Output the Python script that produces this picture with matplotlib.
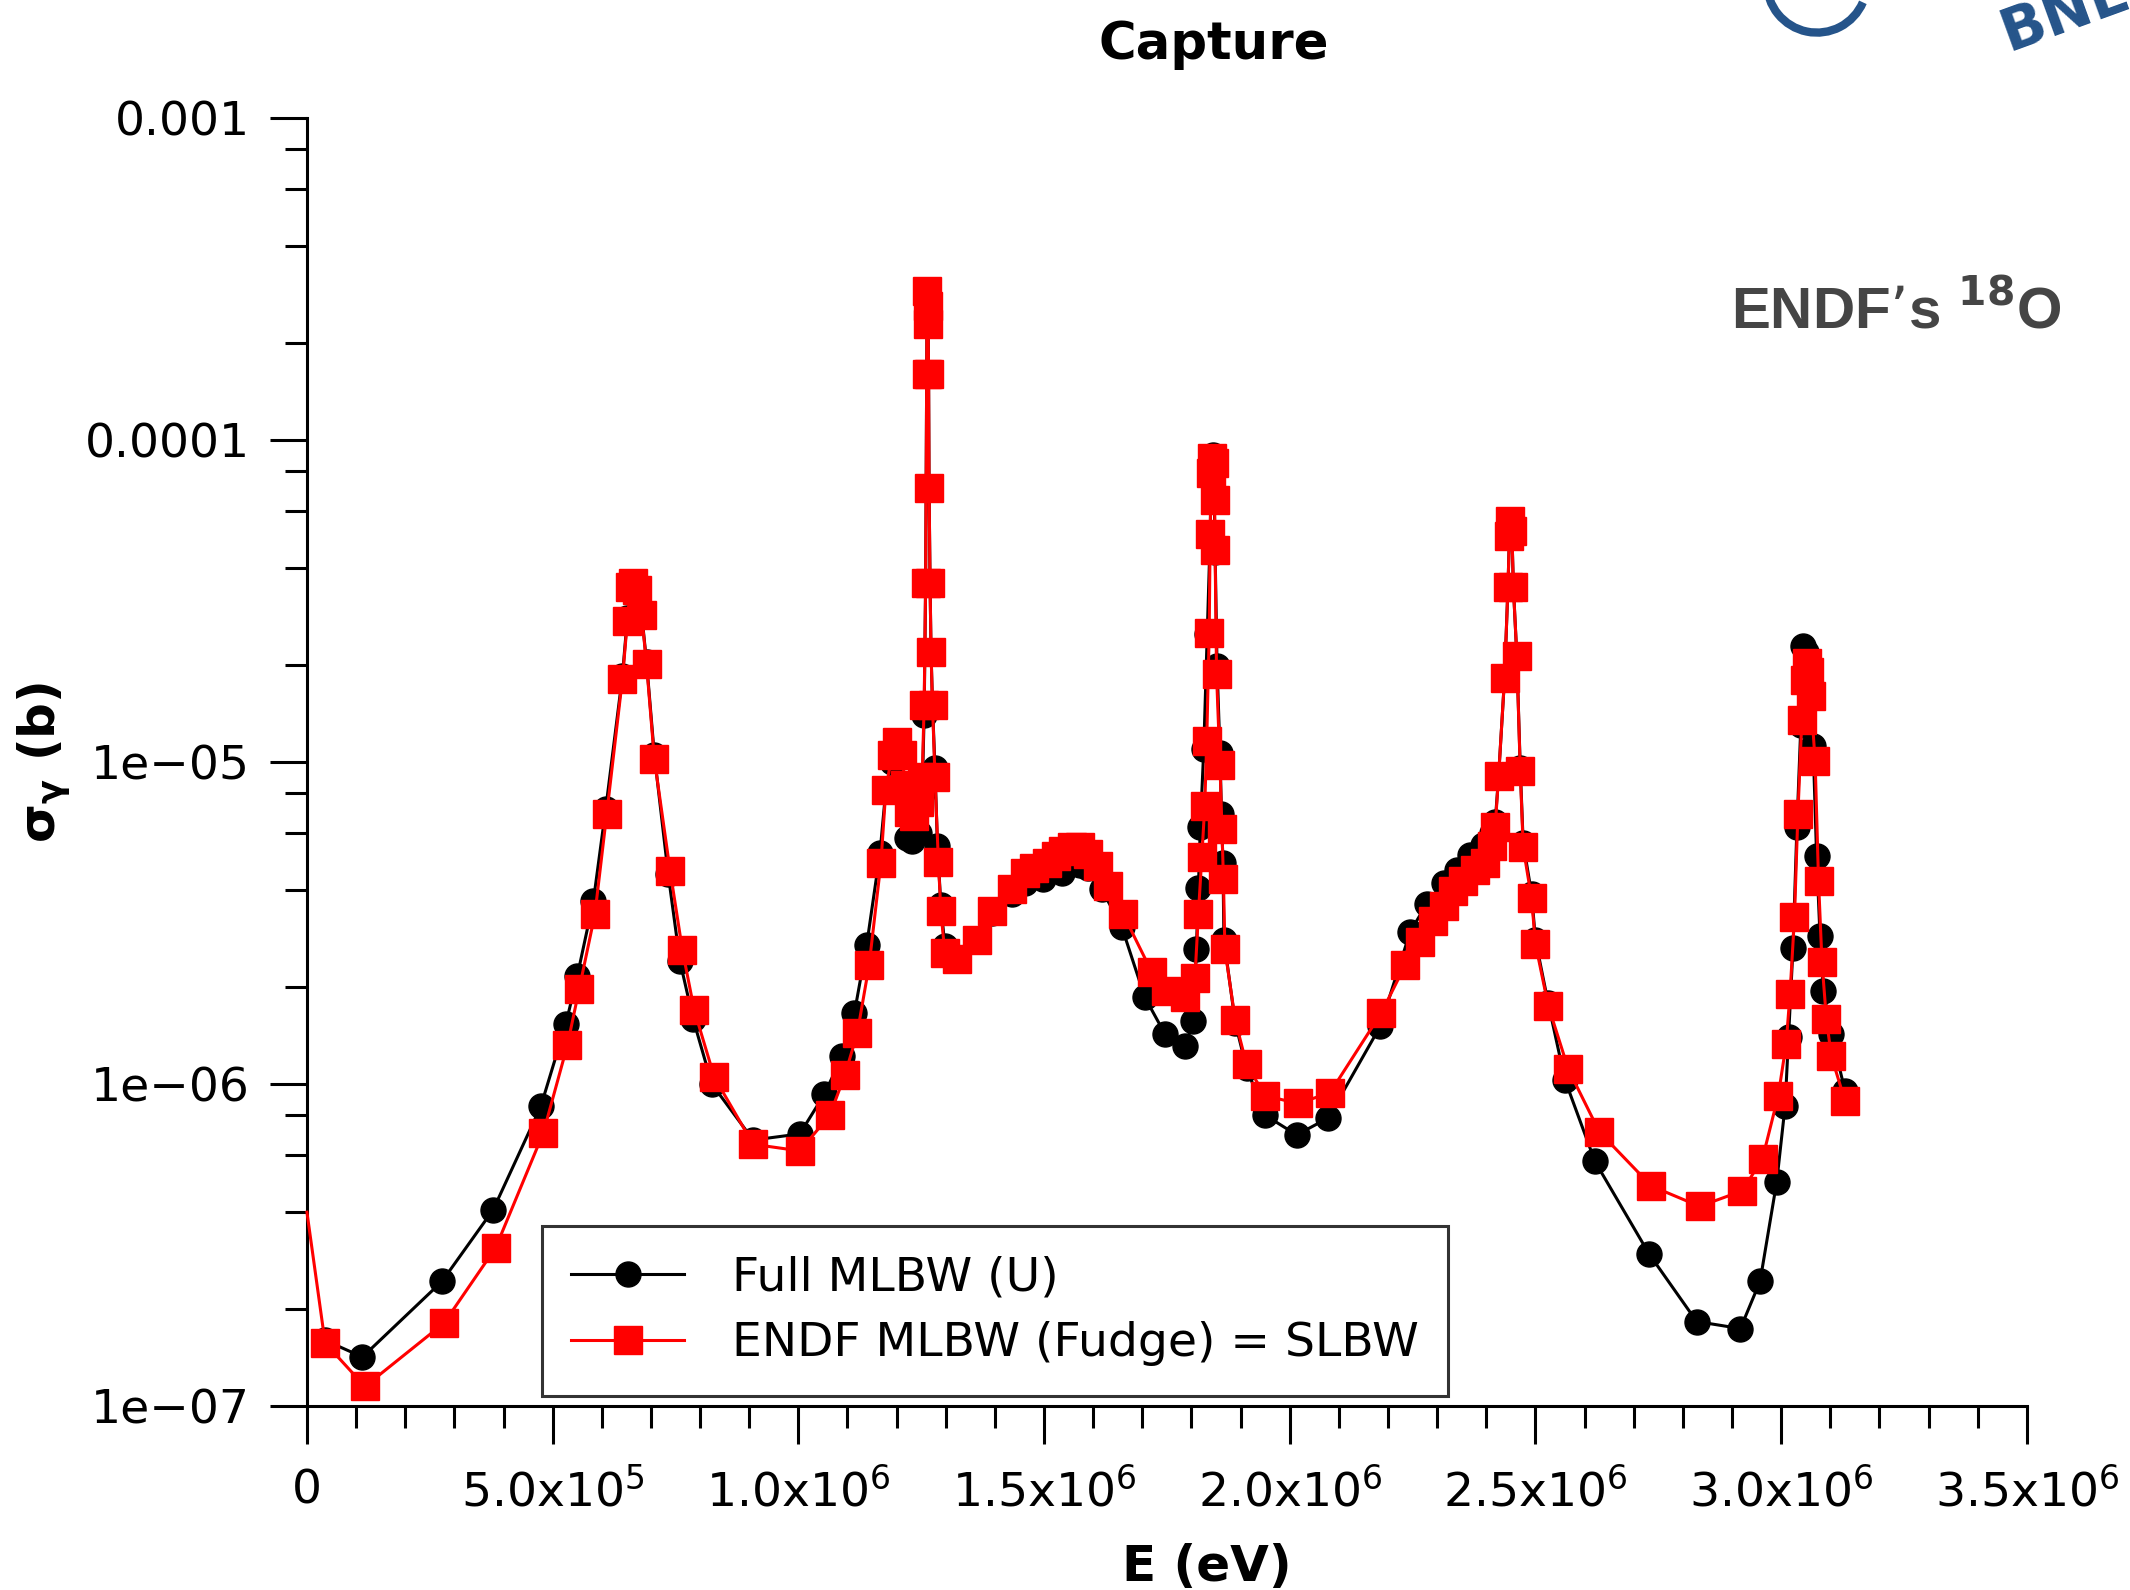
import numpy as np
import matplotlib
matplotlib.use("Agg")
import matplotlib.pyplot as plt
from matplotlib.patches import Arc
from matplotlib.ticker import LogLocator, FixedLocator, NullFormatter

# energies in units of 1e6 eV, capture cross sections in barns
full_E = [0.037, 0.113, 0.275, 0.379, 0.476, 0.527, 0.550, 0.583, 0.608, 0.642,
          0.652, 0.663, 0.671, 0.681, 0.691, 0.707, 0.735, 0.759, 0.786, 0.824,
          0.908, 1.003, 1.053, 1.089, 1.114, 1.139, 1.166, 1.178, 1.190, 1.200,
          1.212, 1.222, 1.232, 1.245, 1.252, 1.256, 1.259, 1.261, 1.262, 1.263,
          1.264, 1.265, 1.266, 1.268, 1.270, 1.273, 1.278, 1.283, 1.290, 1.298,
          1.322, 1.363, 1.395, 1.434, 1.461, 1.498, 1.536, 1.573, 1.590, 1.617,
          1.658, 1.705, 1.746, 1.787, 1.804, 1.810, 1.814, 1.818, 1.825, 1.832,
          1.838, 1.840, 1.843, 1.845, 1.848, 1.852, 1.858, 1.861, 1.864, 1.866,
          1.889, 1.912, 1.950, 2.014, 2.078, 2.184, 2.245, 2.279, 2.313, 2.340,
          2.367, 2.394, 2.411, 2.418, 2.425, 2.437, 2.444, 2.447, 2.449, 2.452,
          2.455, 2.462, 2.469, 2.475, 2.492, 2.500, 2.526, 2.560, 2.621, 2.731,
          2.828, 2.917, 2.957, 2.991, 3.008, 3.015, 3.024, 3.032, 3.040, 3.045,
          3.050, 3.058, 3.065, 3.072, 3.079, 3.086, 3.102, 3.130]
full_sigma = [1.6e-7, 1.42e-7, 2.44e-7, 4.07e-7, 8.53e-7, 1.54e-6, 2.16e-6, 3.71e-6, 7.15e-6, 1.85e-5,
              2.8e-5, 3.6e-5, 3.45e-5, 2.9e-5, 2.05e-5, 1.05e-5, 4.5e-6, 2.41e-6, 1.59e-6, 1.0e-6,
              6.7e-7, 7.0e-7, 9.3e-7, 1.22e-6, 1.66e-6, 2.7e-6, 5.2e-6, 8.2e-6, 1.0e-5, 1.05e-5,
              8.0e-6, 5.8e-6, 5.7e-6, 6.0e-6, 8.0e-6, 1.4e-5, 3.6e-5, 1.6e-4, 2.9e-4, 2.6e-4,
              2.3e-4, 1.6e-4, 7.1e-5, 3.6e-5, 2.2e-5, 1.5e-5, 9.6e-6, 5.5e-6, 3.6e-6, 2.69e-6,
              2.45e-6, 2.8e-6, 3.4e-6, 3.9e-6, 4.2e-6, 4.33e-6, 4.53e-6, 4.8e-6, 4.7e-6, 4.03e-6,
              3.08e-6, 1.86e-6, 1.43e-6, 1.31e-6, 1.57e-6, 2.62e-6, 4.07e-6, 6.3e-6, 1.1e-5, 2.5e-5,
              5.0e-5, 8.0e-5, 9.0e-5, 8.5e-5, 4.5e-5, 1.99e-5, 1.07e-5, 6.89e-6, 4.87e-6, 2.81e-6,
              1.55e-6, 1.12e-6, 8.0e-7, 6.95e-7, 7.84e-7, 1.51e-6, 2.97e-6, 3.63e-6, 4.21e-6, 4.61e-6,
              5.15e-6, 5.54e-6, 6.0e-6, 6.5e-6, 9.06e-6, 1.82e-5, 3.5e-5, 5.05e-5, 5.6e-5, 5.2e-5,
              3.5e-5, 2.14e-5, 9.6e-6, 5.6e-6, 3.9e-6, 2.8e-6, 1.78e-6, 1.03e-6, 5.75e-7, 2.97e-7,
              1.83e-7, 1.74e-7, 2.44e-7, 4.98e-7, 8.57e-7, 1.40e-6, 2.65e-6, 6.28e-6, 1.3e-5, 2.3e-5,
              2.2e-5, 1.8e-5, 1.12e-5, 5.12e-6, 2.88e-6, 1.95e-6, 1.43e-6, 9.5e-7]

endf_E = [0.000, 0.037, 0.118, 0.279, 0.384, 0.481, 0.530, 0.554, 0.586, 0.610,
          0.642, 0.652, 0.658, 0.663, 0.671, 0.681, 0.691, 0.707, 0.739, 0.764,
          0.788, 0.829, 0.908, 1.003, 1.064, 1.095, 1.120, 1.144, 1.168, 1.178,
          1.190, 1.200, 1.210, 1.218, 1.225, 1.235, 1.245, 1.252, 1.256, 1.259,
          1.261, 1.262, 1.263, 1.264, 1.265, 1.266, 1.268, 1.270, 1.273, 1.278,
          1.285, 1.290, 1.298, 1.322, 1.363, 1.395, 1.434, 1.461, 1.480, 1.505,
          1.525, 1.539, 1.556, 1.573, 1.590, 1.610, 1.631, 1.661, 1.719, 1.749,
          1.787, 1.807, 1.814, 1.821, 1.827, 1.831, 1.836, 1.838, 1.840, 1.842,
          1.845, 1.847, 1.848, 1.851, 1.858, 1.862, 1.865, 1.868, 1.889, 1.912,
          1.950, 2.017, 2.082, 2.186, 2.235, 2.265, 2.292, 2.313, 2.333, 2.353,
          2.377, 2.397, 2.411, 2.418, 2.425, 2.437, 2.444, 2.447, 2.449, 2.452,
          2.455, 2.462, 2.469, 2.475, 2.492, 2.500, 2.526, 2.567, 2.630, 2.736,
          2.834, 2.921, 2.962, 2.994, 3.010, 3.018, 3.027, 3.034, 3.042, 3.048,
          3.052, 3.056, 3.060, 3.069, 3.076, 3.083, 3.092, 3.102, 3.130]
endf_sigma = [4.0e-7, 1.57e-7, 1.15e-7, 1.81e-7, 3.10e-7, 7.05e-7, 1.32e-6, 1.97e-6, 3.37e-6, 6.89e-6,
              1.81e-5, 2.74e-5, 3.5e-5, 3.59e-5, 3.43e-5, 2.87e-5, 2.02e-5, 1.02e-5, 4.6e-6, 2.61e-6,
              1.70e-6, 1.05e-6, 6.5e-7, 6.2e-7, 8.0e-7, 1.07e-6, 1.44e-6, 2.34e-6, 4.86e-6, 8.18e-6,
              1.05e-5, 1.15e-5, 1.05e-5, 8.5e-6, 7.0e-6, 6.8e-6, 7.5e-6, 9.0e-6, 1.5e-5, 3.6e-5,
              1.6e-4, 2.9e-4, 2.6e-4, 2.3e-4, 1.6e-4, 7.1e-5, 3.6e-5, 2.2e-5, 1.5e-5, 9.0e-6,
              4.9e-6, 3.44e-6, 2.56e-6, 2.44e-6, 2.8e-6, 3.44e-6, 4.03e-6, 4.53e-6, 4.7e-6, 4.86e-6,
              5.1e-6, 5.31e-6, 5.45e-6, 5.43e-6, 5.19e-6, 4.74e-6, 4.13e-6, 3.37e-6, 2.23e-6, 1.95e-6,
              1.86e-6, 2.13e-6, 3.37e-6, 5.07e-6, 7.31e-6, 1.16e-5, 2.51e-5, 5.1e-5, 7.9e-5, 8.8e-5,
              8.5e-5, 6.5e-5, 4.55e-5, 1.87e-5, 9.8e-6, 6.2e-6, 4.34e-6, 2.62e-6, 1.58e-6, 1.15e-6,
              9.2e-7, 8.7e-7, 9.4e-7, 1.66e-6, 2.34e-6, 2.77e-6, 3.2e-6, 3.57e-6, 3.98e-6, 4.28e-6,
              4.61e-6, 4.87e-6, 5.5e-6, 6.3e-6, 9.06e-6, 1.82e-5, 3.5e-5, 5.05e-5, 5.6e-5, 5.2e-5,
              3.5e-5, 2.14e-5, 9.4e-6, 5.43e-6, 3.77e-6, 2.72e-6, 1.75e-6, 1.11e-6, 7.1e-7, 4.82e-7,
              4.17e-7, 4.66e-7, 5.87e-7, 9.2e-7, 1.33e-6, 1.91e-6, 3.29e-6, 6.91e-6, 1.35e-5, 1.8e-5,
              2.03e-5, 1.9e-5, 1.6e-5, 1.01e-5, 4.26e-6, 2.39e-6, 1.59e-6, 1.22e-6, 8.85e-7]

xtick_vals = [0, 0.5, 1.0, 1.5, 2.0, 2.5, 3.0, 3.5]
xtick_labels = ["0", "5.0x10$^{5}$", "1.0x10$^{6}$", "1.5x10$^{6}$", "2.0x10$^{6}$",
                "2.5x10$^{6}$", "3.0x10$^{6}$", "3.5x10$^{6}$"]
ytick_vals = [1e-7, 1e-6, 1e-5, 1e-4, 1e-3]
ytick_labels = ["1e\u221207", "1e\u221206", "1e\u221205", "0.0001", "0.001"]

fe = np.array(full_E) * 1e6
ee = np.array(endf_E) * 1e6

fig = plt.figure(figsize=(21.3, 15.9), dpi=100)
ax = fig.add_axes([0.1441, 0.1157, 0.8075, 0.8101])

ax.plot(fe, full_sigma, color="black", lw=2.2, marker="o", ms=18,
        label="Full MLBW (U)", zorder=3)
# first ENDF point sits on the axis, no marker drawn there
ax.plot(ee[:2], endf_sigma[:2], color="red", lw=2.2, zorder=4, clip_on=False)
ax.plot(ee[1:], endf_sigma[1:], color="red", lw=2.2, marker="s", ms=20, mec="red",
        label="ENDF MLBW (Fudge) = SLBW", zorder=4)

ax.set_yscale("log")
ax.set_xlim(0, 3.5e6)
ax.set_ylim(1e-7, 1e-3)

ax.spines["top"].set_visible(False)
ax.spines["right"].set_visible(False)
ax.spines["left"].set_linewidth(2.2)
ax.spines["bottom"].set_linewidth(2.2)

ax.xaxis.set_major_locator(FixedLocator([v * 1e6 for v in xtick_vals]))
ax.set_xticklabels(xtick_labels)
ax.xaxis.set_minor_locator(FixedLocator(np.arange(0, 3.5e6 + 1, 1e5)))
ax.yaxis.set_major_locator(FixedLocator(ytick_vals))
ax.set_yticklabels(ytick_labels)
ax.yaxis.set_minor_locator(LogLocator(base=10, subs=[2, 4, 6, 8]))
ax.yaxis.set_minor_formatter(NullFormatter())

ax.tick_params(which="major", direction="out", length=27, width=2.2, labelsize=34, pad=14)
ax.tick_params(which="minor", direction="out", length=16, width=2.2)
ax.tick_params(axis="x", which="major", pad=18)

ax.set_xlabel("E (eV)", fontsize=36, fontweight="bold")
ax.xaxis.set_label_coords(0.523, -0.106)
ax.set_ylabel("\u03c3$_{\\mathbf{\\gamma}}$ (b)", fontsize=36, fontweight="bold")
ax.yaxis.set_label_coords(-0.136, 0.50)

fig.text(0.570, 0.972, "Capture", fontsize=37, fontweight="bold", ha="center", va="center")
fig.text(0.8127, 0.8038, "ENDF\u2019s $^{\\mathbf{18}}$O", fontsize=42, fontweight="bold",
         family="Liberation Sans", color="#454545", ha="left", va="center")

# partial lab logo in the top right corner (cut by the edge, as in the source)
fig.text(0.936, 0.992, "BNL", fontsize=42, fontweight="bold", color="#25548a",
         rotation=20, ha="left", va="center")
fig.patches.append(Arc((0.853, 1.011), 0.047, 0.063, theta1=180, theta2=330,
                       transform=fig.transFigure, color="#25548a", lw=6, clip_on=False))

leg = ax.legend(loc="lower left", bbox_to_anchor=(0.1366, 0.008), borderaxespad=0,
                fontsize=34, frameon=True, fancybox=False, edgecolor="black",
                handlelength=2.4, handletextpad=1.0, labelspacing=0.45, borderpad=0.62)
leg.get_frame().set_linewidth(2.2)

fig.savefig("out.png", dpi=100)
